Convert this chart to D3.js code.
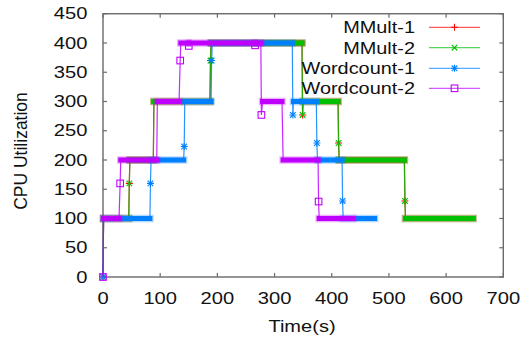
<!DOCTYPE html>
<html>
<head>
<meta charset="utf-8">
<title>CPU Utilization</title>
<style>
  body { margin: 0; background: #fff; }
  svg { display: block; }
  text { font-family: "Liberation Sans", Arial, sans-serif; fill: #111; }
</style>
</head>
<body>
<svg id="chart" width="522" height="337"></svg>
<script src="https://d3js.org/d3.v7.min.js"></script>
<script>
// tick labels
const xTicks = [0, 100, 200, 300, 400, 500, 600, 700];
const yTicks = [0, 50, 100, 150, 200, 250, 300, 350, 400, 450];

// series (time in s, cpu utilization)
const mmult1Time  = [0, 1, 45, 46, 47, 88, 89, 187, 188, 189, 348, 349, 350, 411, 412, 413, 527, 528, 529, 647];
const mmult1Value = [0, 100, 100, 160, 200, 200, 300, 300, 370, 400, 400, 277, 300, 300, 229, 200, 200, 130, 100, 100];

const mmult2Time  = [0, 1, 45, 46, 47, 88, 89, 187, 188, 189, 348, 349, 350, 411, 412, 413, 527, 528, 529, 647];
const mmult2Value = [0, 100, 100, 160, 200, 200, 300, 300, 370, 400, 400, 277, 300, 300, 229, 200, 200, 130, 100, 100];

const wc1Time  = [0, 1, 82, 83, 84, 141, 142, 143, 189, 190, 191, 331, 332, 333, 373, 374, 375, 418, 419, 420, 475];
const wc1Value = [0, 100, 100, 160, 200, 200, 223, 300, 300, 370, 400, 400, 277, 300, 300, 229, 200, 200, 130, 100, 100];

const wc2Time  = [0, 1, 28, 30, 31, 94, 95, 133, 135, 136, 149, 150, 151, 265, 266, 267, 276, 277, 279, 313, 315, 376, 377, 378, 437];
const wc2Value = [0, 100, 100, 160, 200, 200, 300, 300, 370, 400, 400, 395, 400, 400, 396, 400, 400, 277, 300, 300, 200, 200, 129, 100, 100];

const seriesNames = ["MMult-1", "MMult-2", "Wordcount-1", "Wordcount-2"];
const seriesColors = ["#ff0000", "#00c000", "#0080ff", "#c000ff"];
const seriesMarks = ["plus", "cross", "star", "square"];

const zip = (t, v) => t.map((d, i) => ({t: d, v: v[i]}));
const series = [
  zip(mmult1Time, mmult1Value),
  zip(mmult2Time, mmult2Value),
  zip(wc1Time, wc1Value),
  zip(wc2Time, wc2Value)
];

const svg = d3.select("#chart");
const plotLeft = 103, plotRight = 503.3, plotTop = 13.75, plotBottom = 277;

const x = d3.scaleLinear().domain([0, 700]).range([plotLeft, plotRight]);
const y = d3.scaleLinear().domain([0, 450]).range([plotBottom, plotTop]);

// stretched text, the picture's lettering is wider than plain Arial
function label(g, str, px, py, size, sx, anchor) {
  return g.append("text")
    .attr("transform", `translate(${px},${py}) scale(${sx},1)`)
    .attr("text-anchor", anchor)
    .style("font-size", size + "px")
    .text(str);
}

// frame and ticks
const axisColor = "#6a6a6a";
svg.append("rect")
  .attr("x", plotLeft).attr("y", plotTop)
  .attr("width", plotRight - plotLeft).attr("height", plotBottom - plotTop)
  .attr("fill", "none").attr("stroke", axisColor).attr("stroke-width", 1.4);

const ticks = svg.append("g").attr("stroke", axisColor).attr("stroke-width", 1.2);
xTicks.forEach(d => {
  ticks.append("line").attr("x1", x(d)).attr("x2", x(d)).attr("y1", plotBottom).attr("y2", plotBottom - 4);
  ticks.append("line").attr("x1", x(d)).attr("x2", x(d)).attr("y1", plotTop).attr("y2", plotTop + 4);
});
yTicks.forEach(d => {
  ticks.append("line").attr("x1", plotLeft).attr("x2", plotLeft + 4).attr("y1", y(d)).attr("y2", y(d));
  ticks.append("line").attr("x1", plotRight).attr("x2", plotRight - 4).attr("y1", y(d)).attr("y2", y(d));
});

const labels = svg.append("g");
xTicks.forEach(d => label(labels, d, x(d), 303.5, 16, 1.26, "middle"));
yTicks.forEach(d => label(labels, d, 87.5, y(d) + 5.7, 16, 1.26, "end"));
label(labels, "Time(s)", 302, 332, 17, 1.18, "middle");
labels.append("text")
  .attr("transform", "translate(26.5,151) rotate(-90)")
  .attr("text-anchor", "middle")
  .style("font-size", "17.5px")
  .text("CPU Utilization");

// point markers
function drawMark(g, kind, px, py, color) {
  const s = 3.5;
  if (kind === "plus" || kind === "star") {
    g.append("path").attr("d", `M${px - s},${py}H${px + s}M${px},${py - s}V${py + s}`)
      .attr("stroke", color).attr("stroke-width", 1.1).attr("fill", "none");
  }
  if (kind === "cross" || kind === "star") {
    const c = 2.8;
    g.append("path").attr("d", `M${px - c},${py - c}L${px + c},${py + c}M${px - c},${py + c}L${px + c},${py - c}`)
      .attr("stroke", color).attr("stroke-width", 1.1).attr("fill", "none");
  }
  if (kind === "square") {
    g.append("rect").attr("x", px - 3.3).attr("y", py - 3.3).attr("width", 6.6).attr("height", 6.6)
      .attr("stroke", color).attr("stroke-width", 1.1).attr("fill", "none");
  }
}

const line = d3.line().x(d => x(d.t)).y(d => y(d.v));

series.forEach((pts, i) => {
  const color = seriesColors[i];
  const g = svg.append("g");
  // runs of equal values: the dense markers there merge into a thick bar
  const runs = d3.pairs(pts).filter(([a, b]) => a.v === b.v);
  g.selectAll(".fringe").data(runs).join("line")
    .attr("x1", d => x(d[0].t)).attr("x2", d => x(d[1].t))
    .attr("y1", d => y(d[0].v)).attr("y2", d => y(d[1].v))
    .attr("stroke", color).attr("stroke-opacity", 0.3)
    .attr("stroke-width", 7.5).attr("stroke-linecap", "square");
  g.selectAll(".band").data(runs).join("line")
    .attr("x1", d => x(d[0].t)).attr("x2", d => x(d[1].t))
    .attr("y1", d => y(d[0].v)).attr("y2", d => y(d[1].v))
    .attr("stroke", color).attr("stroke-width", 5).attr("stroke-linecap", "square");
  g.append("path").datum(pts).attr("d", line)
    .attr("fill", "none").attr("stroke", color).attr("stroke-width", 1.2).attr("stroke-opacity", 0.85);
  // lone samples (transitions) keep a visible marker
  pts.forEach((d, k) => {
    const prev = pts[k - 1], next = pts[k + 1];
    const inRun = (prev && prev.v === d.v) || (next && next.v === d.v);
    if (!inRun) drawMark(g, seriesMarks[i], x(d.t), y(d.v), color);
  });
});

// legend
const legendRows = [27.3, 47.7, 68.3, 88.3];
const legend = svg.append("g");
seriesNames.forEach((name, i) => {
  const ly = legendRows[i];
  label(legend, name, 415, ly + 6, 17, 1.17, "end");
  legend.append("line").attr("x1", 429).attr("x2", 480).attr("y1", ly).attr("y2", ly)
    .attr("stroke", seriesColors[i]).attr("stroke-width", 1.3).attr("stroke-opacity", 0.65);
  drawMark(legend, seriesMarks[i], 454.5, ly, seriesColors[i]);
});
</script>
</body>
</html>
